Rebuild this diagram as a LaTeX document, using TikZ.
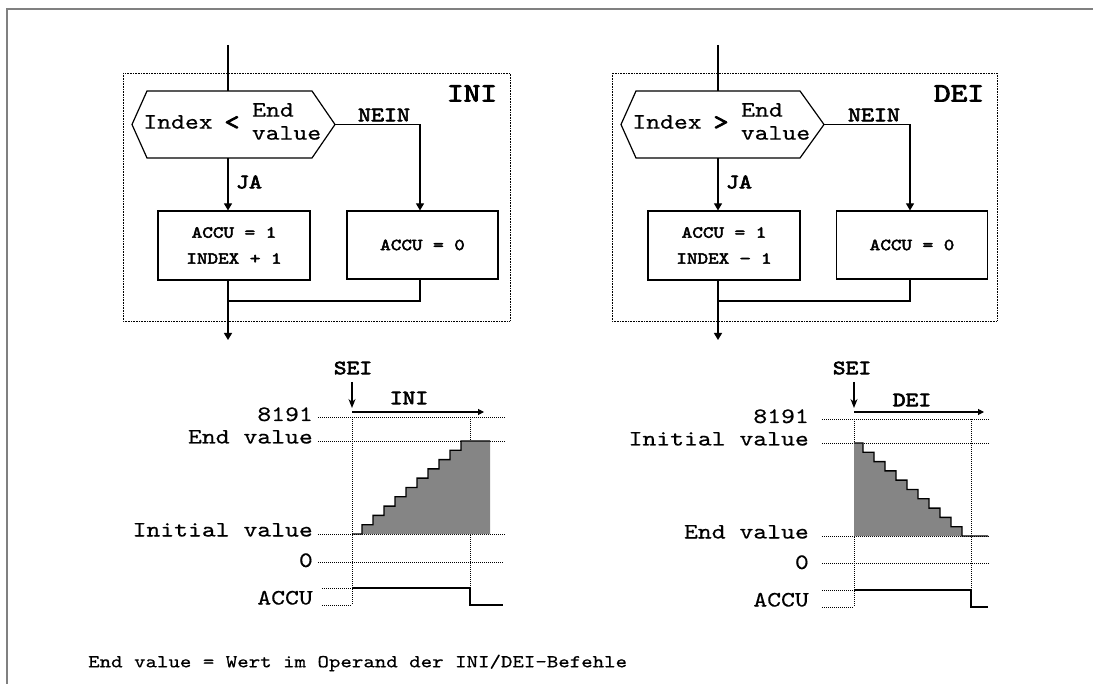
\documentclass[tikz,border=0pt]{standalone}
\usepackage{fontspec}
\newfontfamily\cour[FakeStretch=1.2,UprightFeatures={FakeBold=0.5},BoldFont=lmmono10-regular.otf,BoldFeatures={FakeBold=3}]{lmmono10-regular.otf}
\usetikzlibrary{arrows.meta}
\definecolor{frgray}{HTML}{808080}
\definecolor{stgray}{HTML}{858585}

\begin{document}
\begin{tikzpicture}[x=1pt,y=-1pt,
 line/.style={line width=1.2pt},
 arr/.style={line width=1.2pt,-{Triangle[length=7pt,width=8pt]}},
 seiarr/.style={line width=1.3pt,-{Stealth[length=9pt,width=7pt]}},
 runarr/.style={line width=1.1pt,-{Triangle[length=6pt,width=6pt]}},
 dotbox/.style={line width=0.8pt,dash pattern=on 0.8pt off 0.8pt},
 guide/.style={line width=0.7pt,dash pattern=on 1pt off 1pt},
 sig/.style={line width=1.4pt},
 box/.style={draw,line width=1.2pt,font=\cour\bfseries\fontsize{16.8}{26}\selectfont,align=center,inner sep=0pt},
 hextxt/.style={font=\cour\fontsize{22}{22}\selectfont,inner sep=0pt},
 yn/.style={font=\cour\bfseries\fontsize{20.6}{21}\selectfont,inner sep=0pt},
 title/.style={font=\cour\bfseries\fontsize{26.5}{27}\selectfont,inner sep=0pt},
 lbl/.style={font=\cour\fontsize{22}{22}\selectfont,anchor=base east,inner sep=0pt},
 tag/.style={font=\cour\bfseries\fontsize{20.3}{21}\selectfont,inner sep=0pt}
]
\useasboundingbox (0,0) rectangle (1093,684);
\draw[frgray,line width=1.5pt] (7,684) -- (7,9) -- (1093,9);

% INI flowchart
\begin{scope}
\draw[dotbox] (123,73) rectangle (510,321);
\coordinate (lin) at (228,45);
\coordinate (lhn) at (228,91);
\coordinate (lhs) at (228,158);
\coordinate (lhe) at (335,124.5);
\coordinate (lne) at (420,124.5);
\coordinate (ljoin) at (228,301);
\coordinate (lout) at (228,340);
\draw[line] (132,124.5) -- (147,91) -- (312,91) -- (lhe) -- (312,158) -- (147,158) -- cycle;
\node[hextxt] (lidx) at (178,122) {Index};
\node[hextxt,font=\cour\bfseries\fontsize{24}{24}\selectfont] (lcmp) at (232,123) {<};
\node[hextxt] (lend) at (273,110) {End};
\node[hextxt] (lval) at (286.5,133) {value};
\node[box,minimum width=152pt,minimum height=69pt] (lya) at (234,245.5) {ACCU = 1\\INDEX + 1};
\node[box,minimum width=151pt,minimum height=68pt] (lna) at (422.5,245) {ACCU = 0};
\draw[line] (lin) -- (lhn);
\draw[arr] (lhs) -- (lhs |- lya.north);
\draw[arr] (lhe) -- (lne) -- (lne |- lna.north);
\draw[line] (lne |- lna.south) |- (ljoin);
\draw[arr] (lhs |- lya.south) -- (lout);
\node[yn] (lja) at (249,182) {JA};
\node[yn] (lnein) at (384,115) {NEIN};
\node[title] (lttl) at (472,93.5) {INI};
\end{scope}

% DEI flowchart
\begin{scope}[shift={(489,0)}]
\draw[dotbox] (123,73) rectangle (508,321);
\coordinate (rin) at (229,45);
\coordinate (rhn) at (229,91);
\coordinate (rhs) at (229,158);
\coordinate (rhe) at (335,124.5);
\coordinate (rne) at (421,124.5);
\coordinate (rjoin) at (229,301);
\coordinate (rout) at (229,340);
\draw[line] (132,124.5) -- (147,91) -- (311,91) -- (rhe) -- (311,158) -- (147,158) -- cycle;
\node[hextxt] (ridx) at (178,122) {Index};
\node[hextxt,font=\cour\bfseries\fontsize{24}{24}\selectfont] (rcmp) at (232,123) {>};
\node[hextxt] (rend) at (273,110) {End};
\node[hextxt] (rval) at (286.5,133) {value};
\node[box,minimum width=152pt,minimum height=69pt] (rya) at (235,245.5) {ACCU = 1\\INDEX \char"2212{} 1};
\node[box,minimum width=151pt,minimum height=68pt] (rna) at (423,245) {ACCU = 0};
\draw[line] (rin) -- (rhn);
\draw[arr] (rhs) -- (rhs |- rya.north);
\draw[arr] (rhe) -- (rne) -- (rne |- rna.north);
\draw[line] (rne |- rna.south) |- (rjoin);
\draw[arr] (rhs |- rya.south) -- (rout);
\node[yn] (rja) at (250,182) {JA};
\node[yn] (rnein) at (385,115) {NEIN};
\node[title] (rttl) at (470,93.5) {DEI};
\end{scope}

% INI timing
\begin{scope}
\node[lbl] (l8191) at (313,421) {8191};
\node[lbl] (lendv) at (313,443.5) {End value};
\node[lbl] (linit) at (313,536.5) {Initial value};
\node[lbl] (lzero) at (313,567) {0};
\node[lbl] (laccu) at (313,604.5) {ACCU};
\draw[guide] (318,417) -- (505,417);
\draw[guide] (318,441) -- (505,441);
\draw[guide] (318,534) -- (505,534);
\draw[guide] (318,562) -- (503,562);
\draw[guide] (322,588) -- (352,588);
\draw[guide] (322,605) -- (352,605);
\draw[guide] (352,417) -- (352,605);
\draw[guide] (470,417) -- (470,588);
\fill[stgray] (362,534) \foreach \i in {1,...,10} { -- ++(0,-9.3) -- ++(11,0) } -- (490,441) -- (490,534) -- cycle;
\draw[sig] (352,534) -- (362,534) \foreach \i in {1,...,10} { -- ++(0,-9.3) -- ++(11,0) } -- (490,441);
\draw[sig] (352,588) -- (470,588) -- (470,605) -- (503,605);
\node[tag] (lsei) at (353,368) {SEI};
\coordinate (lseitop) at (352,382);
\coordinate (lseitip) at (352,408);
\draw[seiarr] (lseitop) -- (lseitip);
\node[tag] (lrun) at (409,398) {INI};
\coordinate (lrunend) at (484,412);
\draw[runarr] (352,412) -- (lrunend);
\end{scope}

% DEI timing
\begin{scope}[shift={(502,2)}]
\node[lbl] (r8191) at (307,421) {8191};
\node[lbl] (rinit) at (307,443.5) {Initial value};
\node[lbl] (rendv) at (307,536.5) {End value};
\node[lbl] (rzero) at (307,567) {0};
\node[lbl] (raccu) at (307,604.5) {ACCU};
\draw[guide] (320,417) -- (488,417);
\draw[guide] (320,441) -- (488,441);
\draw[guide] (320,534) -- (488,534);
\draw[guide] (320,561) -- (488,561);
\draw[guide] (320,588) -- (352,588);
\draw[guide] (320,605) -- (352,605);
\draw[guide] (352,417) -- (352,605);
\draw[guide] (469,417) -- (469,588);
\fill[stgray] (352,534) -- (352,441) -- (361,441) \foreach \i in {1,...,10} { -- ++(0,9.3) -- ++(11,0) } -- cycle;
\draw[sig] (352,441) -- (361,441) \foreach \i in {1,...,10} { -- ++(0,9.3) -- ++(11,0) } -- (486,534);
\draw[sig] (352,588) -- (469,588) -- (469,605) -- (486,605);
\node[tag] (rsei) at (350,366) {SEI};
\coordinate (rseitop) at (352,380);
\coordinate (rseitip) at (352,406);
\draw[seiarr] (rseitop) -- (rseitip);
\node[tag] (rrun) at (410,398) {DEI};
\coordinate (rrunend) at (482,410);
\draw[runarr] (352,410) -- (rrunend);
\end{scope}

\node[font=\cour\fontsize{18.2}{19}\selectfont,anchor=west,inner sep=0pt] (note) at (88,663) {End value = Wert im Operand der INI/DEI-Befehle};
\end{tikzpicture}
\end{document}
